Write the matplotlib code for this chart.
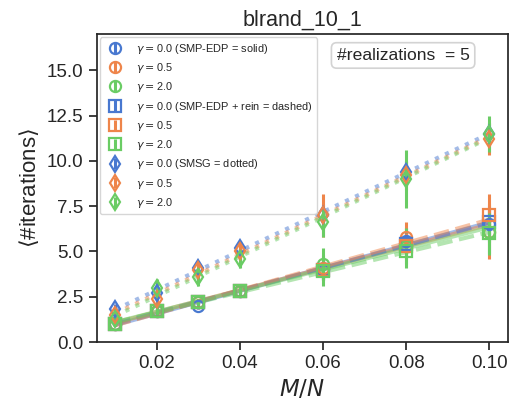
import numpy as np
import matplotlib
matplotlib.use("Agg")
import matplotlib.pyplot as plt
import seaborn as sns

sns.set_theme(style="ticks", palette="muted")
plt.rcParams['font.family'] = ['Liberation Sans', 'DejaVu Sans']
plt.rcParams['mathtext.fontset'] = 'dejavusans'

x = [0.01, 0.02, 0.03, 0.04, 0.06, 0.08, 0.10]
gammas = ["0.0", "0.5", "2.0"]

# SMP-EDP (circles, solid)
edp_mean = [
    [1.0, 1.7, 2.0, 2.8, 4.0, 5.6, 6.5],
    [1.0, 1.7, 2.2, 2.8, 4.1, 5.8, 6.1],
    [1.0, 1.7, 2.2, 2.8, 4.3, 5.3, 6.1],
]
edp_err = [
    [0.1, 0.2, 0.2, 0.2, 0.6, 0.7, 1.0],
    [0.1, 0.2, 0.2, 0.2, 0.7, 0.8, 1.5],
    [0.1, 0.3, 0.2, 0.3, 0.9, 1.0, 1.3],
]
# SMP-EDP + rein (squares, dashed)
rein_mean = [
    [1.0, 1.7, 2.2, 2.8, 4.0, 5.4, 6.6],
    [1.0, 1.7, 2.2, 2.8, 4.0, 5.3, 7.0],
    [1.0, 1.7, 2.2, 2.8, 3.9, 5.0, 6.0],
]
rein_err = [
    [0.1, 0.2, 0.2, 0.2, 0.5, 0.6, 0.8],
    [0.1, 0.2, 0.2, 0.2, 0.6, 0.7, 1.2],
    [0.1, 0.2, 0.2, 0.3, 0.8, 0.9, 1.1],
]
# SMSG (diamonds, dotted)
smsg_mean = [
    [1.8, 2.7, 4.1, 5.2, 7.0, 9.4, 11.5],
    [1.5, 2.4, 4.0, 5.0, 7.0, 9.2, 11.2],
    [1.3, 3.0, 3.6, 4.6, 6.6, 9.0, 11.5],
]
smsg_err = [
    [0.3, 0.4, 0.4, 0.4, 0.6, 0.6, 0.6],
    [0.3, 0.4, 0.5, 0.5, 1.2, 0.8, 0.9],
    [0.2, 0.5, 0.5, 0.5, 0.8, 1.6, 1.0],
]

colors = sns.color_palette("muted")[:3]

fig = plt.figure(figsize=(5.09, 4.01), dpi=100)
ax = fig.add_axes([0.19, 0.147, 0.808, 0.768])

groups = [
    (edp_mean, edp_err, "o", "-", " (SMP-EDP = solid)"),
    (rein_mean, rein_err, "s", "--", " (SMP-EDP + rein = dashed)"),
    (smsg_mean, smsg_err, "d", ":", " (SMSG = dotted)"),
]

xs = np.array(x)
for means, errs, marker, ls, note in groups:
    for i, g in enumerate(gammas):
        lab = r"$\gamma = $" + g + (note if i == 0 else "")
        ax.errorbar(x, means[i], yerr=errs[i], fmt=marker, color=colors[i],
                    mfc="none", mec=colors[i], ms=8, mew=1.6, elinewidth=2.2,
                    capsize=0, label=lab)
        # linear fit line through the data
        p = np.polyfit(xs, means[i], 1)
        ax.plot(xs, np.polyval(p, xs), ls=ls, color=colors[i], lw=3, alpha=0.5)

ax.set_ylim(0, 17)
ax.set_yticks([0, 2.5, 5, 7.5, 10, 12.5, 15])
ax.set_xticks([0.02, 0.04, 0.06, 0.08, 0.10])
ax.tick_params(labelsize=13.5)
ax.set_xlabel(r"$M/N$", fontsize=16.5)
ax.set_ylabel(r"$\langle$#iterations$\rangle$", fontsize=16)
ax.set_title("blrand_10_1", fontsize=15.5)

ax.legend(loc="upper left", fontsize=7.9, handletextpad=0.9, borderaxespad=0.3,
          labelspacing=0.48)
ax.text(0.745, 0.955, "#realizations  = 5", transform=ax.transAxes, fontsize=12.6,
        ha="center", va="top",
        bbox=dict(boxstyle="round,pad=0.3", fc="white", ec="lightgray", lw=1.2))

fig.savefig("out.png", dpi=100)
